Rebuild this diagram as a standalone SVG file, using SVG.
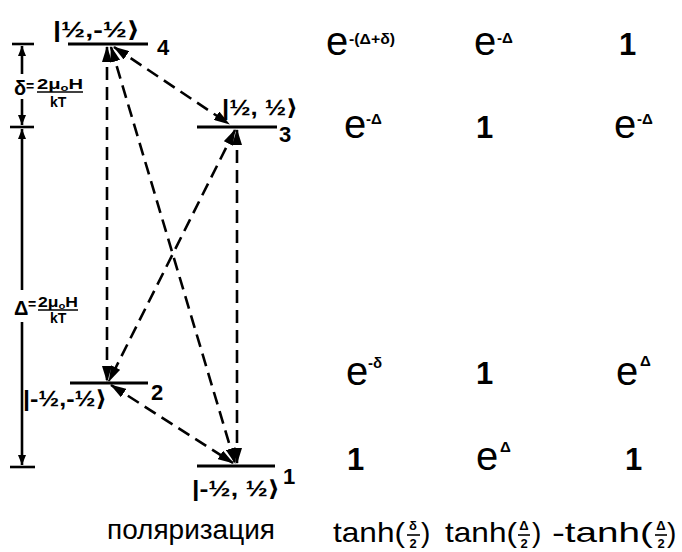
<svg xmlns="http://www.w3.org/2000/svg" width="682" height="552" viewBox="0 0 682 552">
<defs>
<style>
text{font-family:"Liberation Sans","DejaVu Sans",sans-serif;fill:#000}
.lvl{stroke:#000;stroke-width:3}
.cn{stroke:#000;stroke-width:2.6;stroke-dasharray:13 7;fill:none}
.dim{stroke:#000;stroke-width:2.6;fill:none}
.bar{stroke:#000;stroke-width:1.6}
.ket{font-size:22px;font-weight:bold}
.num{font-size:22px;font-weight:bold}
.e{font-size:40px}
.sup{font-size:15px;font-weight:bold}
.one{font-size:31px;font-weight:bold}
.th{font-size:28px}
.fr{font-size:13px;font-weight:bold;text-anchor:middle}
.lab{font-size:14px;font-weight:bold}
.big{font-size:20px;font-weight:bold}
</style>
<marker id="ah" viewBox="0 0 16 10" refX="15" refY="5" markerWidth="16" markerHeight="10" markerUnits="userSpaceOnUse" orient="auto-start-reverse"><path d="M0,0 L16,5 L0,10 Z" fill="#000"/></marker>
<marker id="sa" viewBox="0 0 10 8" refX="10" refY="4" markerWidth="10" markerHeight="8" markerUnits="userSpaceOnUse" orient="auto-start-reverse"><path d="M0,0 L10,4 L0,8 Z" fill="#000"/></marker>
</defs>
<rect width="682" height="552" fill="#fff"/>

<g id="dimension">
<line class="dim" x1="12" y1="44" x2="34" y2="44"/>
<line class="dim" x1="10" y1="127" x2="34" y2="127"/>
<line class="dim" x1="10" y1="467" x2="35" y2="467"/>
<line class="dim" x1="22" y1="74" x2="22" y2="46" marker-end="url(#sa)"/>
<line class="dim" x1="22" y1="99" x2="22" y2="125" marker-end="url(#sa)"/>
<line class="dim" x1="22" y1="290" x2="22" y2="129" marker-end="url(#sa)"/>
<line class="dim" x1="22" y1="322" x2="22" y2="465" marker-end="url(#sa)"/>
<text class="big" x="14" y="95">δ</text>
<text class="lab" x="26" y="91">=</text>
<text class="lab" x="37" y="89" textLength="46" lengthAdjust="spacingAndGlyphs">2μ<tspan font-size="9" dy="2">o</tspan><tspan dy="-2">H</tspan></text>
<line class="bar" x1="37" y1="92" x2="83" y2="92"/>
<text class="lab" x="50" y="107">kT</text>
<text class="big" x="14" y="315">Δ</text>
<text class="lab" x="28" y="309">=</text>
<text class="lab" x="38" y="307" textLength="40" lengthAdjust="spacingAndGlyphs">2μ<tspan font-size="9" dy="2">o</tspan><tspan dy="-2">H</tspan></text>
<line class="bar" x1="38" y1="310" x2="78" y2="310"/>
<text class="lab" x="50" y="323">kT</text>
</g>

<g id="connectors">
<path class="cn" d="M107,47 L107,381" marker-start="url(#ah)" marker-end="url(#ah)"/>
<path class="cn" d="M111,47 L235,463" marker-start="url(#ah)" marker-end="url(#ah)"/>
<path class="cn" d="M114,47 L229,124" marker-start="url(#ah)" marker-end="url(#ah)"/>
<path class="cn" d="M235,130 L109,381" marker-start="url(#ah)" marker-end="url(#ah)"/>
<path class="cn" d="M237,130 L237,463" marker-start="url(#ah)" marker-end="url(#ah)"/>
<path class="cn" d="M111,385 L233,463" marker-start="url(#ah)" marker-end="url(#ah)"/>
</g>

<g id="level4">
<line class="lvl" x1="68" y1="44" x2="148" y2="44"/>
<text class="ket" x="53" y="37" textLength="87" lengthAdjust="spacingAndGlyphs">|½,-½⟩</text>
<text class="num" x="157" y="55">4</text>
</g>
<g id="level3">
<line class="lvl" x1="197" y1="127" x2="277" y2="127"/>
<text class="ket" x="222" y="115" textLength="76" lengthAdjust="spacingAndGlyphs">|½, ½⟩</text>
<text class="num" x="279" y="142">3</text>
</g>
<g id="level2">
<line class="lvl" x1="70" y1="383" x2="148" y2="383"/>
<text class="ket" x="23" y="406" textLength="84" lengthAdjust="spacingAndGlyphs">|-½,-½⟩</text>
<text class="num" x="151" y="400">2</text>
</g>
<g id="level1">
<line class="lvl" x1="197" y1="466" x2="275" y2="466"/>
<text class="ket" x="192" y="496" textLength="88" lengthAdjust="spacingAndGlyphs">|-½, ½⟩</text>
<text class="num" x="283" y="484">1</text>
</g>

<g id="table">
<text class="e" x="326" y="55">e</text><text class="sup" x="349" y="44" textLength="46" lengthAdjust="spacingAndGlyphs">-(Δ+δ)</text>
<text class="e" x="474" y="55">e</text><text class="sup" x="497" y="43">-Δ</text>
<text class="one" x="619" y="55">1</text>

<text class="e" x="344" y="138">e</text><text class="sup" x="366" y="124">-Δ</text>
<text class="one" x="476" y="138">1</text>
<text class="e" x="614" y="138">e</text><text class="sup" x="637" y="124">-Δ</text>

<text class="e" x="346" y="385">e</text><text class="sup" x="368" y="368">-δ</text>
<text class="one" x="476" y="384">1</text>
<text class="e" x="616" y="385">e</text><text class="sup" x="640" y="366">Δ</text>

<text class="one" x="347" y="470">1</text>
<text class="e" x="476" y="470">e</text><text class="sup" x="500" y="452">Δ</text>
<text class="one" x="625" y="470">1</text>

<text x="107" y="539" font-size="27" textLength="168" lengthAdjust="spacingAndGlyphs">поляризация</text>

<text class="th" x="333" y="542" textLength="72" lengthAdjust="spacingAndGlyphs">tanh(</text>
<text class="fr" x="413" y="530">δ</text><line class="bar" x1="407" y1="535" x2="420" y2="535"/><text class="fr" x="413" y="548">2</text>
<text class="th" x="421" y="542">)</text>

<text class="th" x="445" y="542" textLength="72" lengthAdjust="spacingAndGlyphs">tanh(</text>
<text class="fr" x="524" y="530">Δ</text><line class="bar" x1="518" y1="535" x2="530" y2="535"/><text class="fr" x="524" y="548">2</text>
<text class="th" x="532" y="542">)</text>

<text class="th" x="552" y="542" textLength="101" lengthAdjust="spacingAndGlyphs">-tanh(</text>
<text class="fr" x="661" y="530">Δ</text><line class="bar" x1="655" y1="535" x2="667" y2="535"/><text class="fr" x="661" y="548">2</text>
<text class="th" x="667" y="542">)</text>
</g>
</svg>
